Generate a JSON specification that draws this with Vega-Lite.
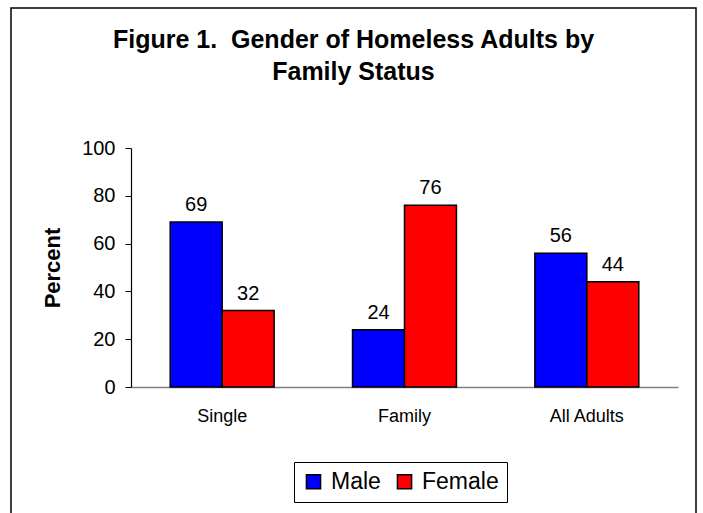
{
  "$schema": "https://vega.github.io/schema/vega-lite/v6.json",
  "autosize": "none",
  "width": 685,
  "height": 520,
  "padding": {"left": 11, "top": 8, "right": 7, "bottom": 0},
  "background": "white",
  "config": {
    "font": "Liberation Sans",
    "view": {"stroke": "black", "strokeWidth": 1.5}
  },
  "title": {
    "text": ["Figure 1.\u00a0 Gender of Homeless Adults by", "Family Status"],
    "fontSize": 25,
    "fontWeight": "bold",
    "font": "Liberation Sans",
    "color": "black",
    "anchor": "middle",
    "frame": "group",
    "orient": "top",
    "baseline": "top",
    "lineHeight": 32,
    "offset": 0,
    "dy": 77
  },
  "data": {
    "values": [
      {"status": "Single", "gender": "Male", "percent": 69},
      {"status": "Single", "gender": "Female", "percent": 32},
      {"status": "Family", "gender": "Male", "percent": 24},
      {"status": "Family", "gender": "Female", "percent": 76},
      {"status": "All Adults", "gender": "Male", "percent": 56},
      {"status": "All Adults", "gender": "Female", "percent": 44}
    ]
  },
  "encoding": {
    "x": {
      "field": "status",
      "type": "nominal",
      "sort": ["Single", "Family", "All Adults"],
      "scale": {"range": [120, 667], "paddingInner": 0.43, "paddingOuter": 0.215},
      "axis": {
        "title": null,
        "orient": "bottom",
        "offset": -141,
        "labelAngle": 0,
        "labelFontSize": 18,
        "labelColor": "black",
        "labelPadding": 20,
        "ticks": false,
        "domainColor": "#808080",
        "domainWidth": 1.5
      }
    },
    "xOffset": {"field": "gender", "sort": ["Male", "Female"]},
    "y": {
      "field": "percent",
      "type": "quantitative",
      "scale": {"domain": [0, 100], "range": [379, 140], "nice": false},
      "axis": {
        "title": "Percent",
        "titleFontSize": 22,
        "titleFontWeight": "bold",
        "titleColor": "black",
        "titlePadding": 17,
        "offset": -120,
        "values": [0, 20, 40, 60, 80, 100],
        "grid": false,
        "labelFontSize": 20,
        "labelColor": "black",
        "labelPadding": 10,
        "tickSize": 6,
        "tickColor": "black",
        "domainColor": "black",
        "domainWidth": 1.2
      }
    }
  },
  "layer": [
    {
      "mark": {"type": "bar", "stroke": "black", "strokeWidth": 1.5},
      "encoding": {
        "color": {
          "field": "gender",
          "type": "nominal",
          "sort": ["Male", "Female"],
          "scale": {"domain": ["Male", "Female"], "range": ["#0000FF", "#FF0000"]},
          "legend": {
            "title": null,
            "orient": "none",
            "direction": "horizontal",
            "legendX": 283,
            "legendY": 454,
            "symbolType": "square",
            "symbolSize": 200,
            "symbolStrokeColor": "black",
            "symbolStrokeWidth": 1.5,
            "symbolOpacity": 1,
            "labelFontSize": 23,
            "labelColor": "black",
            "labelOffset": 6,
            "columnPadding": 12,
            "padding": 8,
            "strokeColor": "black",
            "fillColor": "white"
          }
        }
      }
    },
    {
      "mark": {"type": "text", "baseline": "bottom", "dy": -7, "fontSize": 20, "color": "black"},
      "encoding": {"text": {"field": "percent", "type": "quantitative"}}
    }
  ]
}
